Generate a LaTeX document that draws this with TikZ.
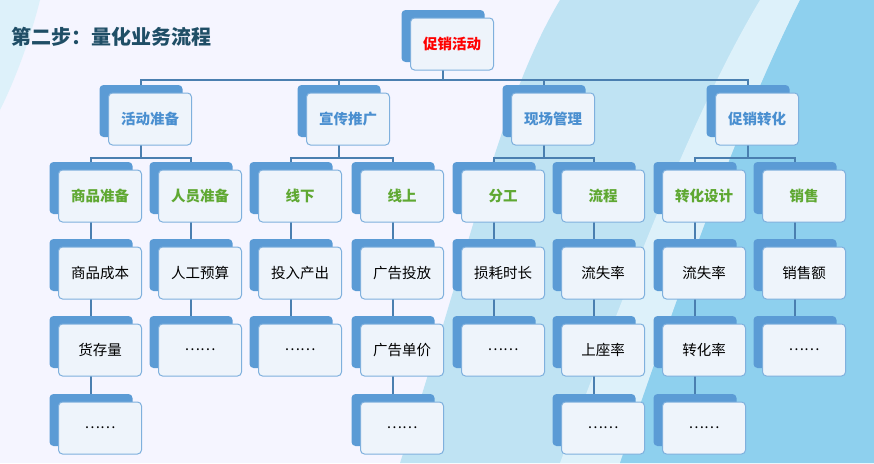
\documentclass[tikz,border=0pt]{standalone}
\usepackage{fontspec}
\setmainfont{Noto Sans CJK SC}
\usetikzlibrary{shadows,backgrounds}
\definecolor{backblue}{HTML}{5B9BD5}
\definecolor{frontfill}{HTML}{EEF4FB}
\definecolor{frontline}{HTML}{7FB0DD}
\definecolor{linkblue}{HTML}{4A7FB0}
\definecolor{titleteal}{HTML}{1F4E66}
\definecolor{lvltwo}{HTML}{4A8FD0}
\definecolor{lvlthree}{HTML}{5FA832}
\definecolor{skylight}{HTML}{BFE3F3}
\definecolor{skydeep}{HTML}{8ED0EE}
\definecolor{skyband}{HTML}{DDF1FA}
\begin{document}
\begin{tikzpicture}[x=1pt,y=-1pt]
  \tikzset{
    card/.style={draw=frontline, line width=1pt, fill=frontfill, rounded corners=4pt,
      minimum width=83pt, minimum height=52pt, inner sep=2pt, font=\fontsize{14.5}{16}\selectfont,
      general shadow={fill=backblue, draw=none, shadow xshift=-9pt, shadow yshift=8pt}},
    top/.style={card, text=red, font=\bfseries\fontsize{14.5}{16}\selectfont},
    grp/.style={card, text=lvltwo, font=\bfseries\fontsize{14.5}{16}\selectfont},
    sub/.style={card, text=lvlthree, font=\bfseries\fontsize{14.5}{16}\selectfont},
    conn/.style={draw=linkblue, line width=1.5pt}
  }
  \useasboundingbox (0,0) rectangle (874,463);
  \node[anchor=west, text=titleteal, font=\bfseries\fontsize{20}{22}\selectfont] (title) at (8,37) {第二步：量化业务流程};
  % top and groups
  \node[top] (root) at (452,44) {促销活动};
  \node[grp] (act) at (150,119) {活动准备};
  \node[grp] (pro) at (348,119) {宣传推广};
  \node[grp] (site) at (553,119) {现场管理};
  \node[grp] (conv) at (757,119) {促销转化};
  % second level
  \node[sub] (goods) at (100,196) {商品准备};
  \node[sub] (staff) at (200,196) {人员准备};
  \node[sub] (off) at (300,196) {线下};
  \node[sub] (on) at (402,196) {线上};
  \node[sub] (work) at (503,196) {分工};
  \node[sub] (flow) at (603,196) {流程};
  \node[sub] (cdes) at (704,196) {转化设计};
  \node[sub] (sale) at (804,196) {销售};
  % items
  \node[card] (g1) at (100,273) {商品成本};
  \node[card] (g2) at (100,350) {货存量};
  \node[card] (g3) at (100,428) {……};
  \node[card] (s1) at (200,273) {人工预算};
  \node[card] (s2) at (200,350) {……};
  \node[card] (f1) at (300,273) {投入产出};
  \node[card] (f2) at (300,350) {……};
  \node[card] (n1) at (402,273) {广告投放};
  \node[card] (n2) at (402,350) {广告单价};
  \node[card] (n3) at (402,428) {……};
  \node[card] (w1) at (503,273) {损耗时长};
  \node[card] (w2) at (503,350) {……};
  \node[card] (l1) at (603,273) {流失率};
  \node[card] (l2) at (603,350) {上座率};
  \node[card] (l3) at (603,428) {……};
  \node[card] (c1) at (704,273) {流失率};
  \node[card] (c2) at (704,350) {转化率};
  \node[card] (c3) at (704,428) {……};
  \node[card] (e1) at (804,273) {销售额};
  \node[card] (e2) at (804,350) {……};
  \begin{scope}[on background layer]
    % backdrop
    \fill[white!96!blue] (0,0) rectangle (874,463);
    \fill[skyband] (0,0) -- (40,0) .. controls (30,40) and (15,80) .. (0,110) -- cycle;
    \fill[skylight] (400,463) .. controls (470,250) and (500,100) .. (560,0) -- (874,0) -- (874,463) -- cycle;
    \fill[skyband] (560,463) .. controls (640,250) and (700,100) .. (760,0) -- (800,0) .. controls (740,120) and (690,260) .. (620,463) -- cycle;
    \fill[skydeep] (620,463) .. controls (690,260) and (740,120) .. (800,0) -- (874,0) -- (874,463) -- cycle;
    % links
    \draw[conn] ([xshift=-9pt]root.center) -- ++(0,-36pt) -| ([xshift=-9pt]act.center);
    \draw[conn] ([xshift=-9pt]root.center) -- ++(0,-36pt) -| ([xshift=-9pt]pro.center);
    \draw[conn] ([xshift=-9pt]root.center) -- ++(0,-36pt) -| ([xshift=-9pt]site.center);
    \draw[conn] ([xshift=-9pt]root.center) -- ++(0,-36pt) -| ([xshift=-9pt]conv.center);
    \draw[conn] ([xshift=-9pt]act.center) -- ++(0,-39pt) -| ([xshift=-9pt]goods.center);
    \draw[conn] ([xshift=-9pt]act.center) -- ++(0,-39pt) -| ([xshift=-9pt]staff.center);
    \draw[conn] ([xshift=-9pt]pro.center) -- ++(0,-39pt) -| ([xshift=-9pt]off.center);
    \draw[conn] ([xshift=-9pt]pro.center) -- ++(0,-39pt) -| ([xshift=-9pt]on.center);
    \draw[conn] ([xshift=-9pt]site.center) -- ++(0,-39pt) -| ([xshift=-9pt]work.center);
    \draw[conn] ([xshift=-9pt]site.center) -- ++(0,-39pt) -| ([xshift=-9pt]flow.center);
    \draw[conn] ([xshift=-9pt]conv.center) -- ++(0,-39pt) -| ([xshift=-9pt]cdes.center);
    \draw[conn] ([xshift=-9pt]conv.center) -- ++(0,-39pt) -| ([xshift=-9pt]sale.center);
    \draw[conn] ([xshift=-9pt]goods.center) -- ([xshift=-9pt]g3.center);
    \draw[conn] ([xshift=-9pt]staff.center) -- ([xshift=-9pt]s2.center);
    \draw[conn] ([xshift=-9pt]off.center) -- ([xshift=-9pt]f2.center);
    \draw[conn] ([xshift=-9pt]on.center) -- ([xshift=-9pt]n3.center);
    \draw[conn] ([xshift=-9pt]work.center) -- ([xshift=-9pt]w2.center);
    \draw[conn] ([xshift=-9pt]flow.center) -- ([xshift=-9pt]l3.center);
    \draw[conn] ([xshift=-9pt]cdes.center) -- ([xshift=-9pt]c3.center);
    \draw[conn] ([xshift=-9pt]sale.center) -- ([xshift=-9pt]e2.center);
  \end{scope}
\end{tikzpicture}
\end{document}
